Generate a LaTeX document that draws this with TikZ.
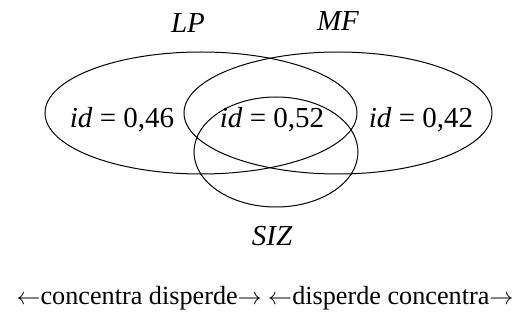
\documentclass[tikz,border=0pt]{standalone}
\usepackage{fontspec}
\setmainfont{Liberation Serif}
\begin{document}
\begin{tikzpicture}[x=0.5pt,y=-0.5pt,
  venn/.style={draw=black,line width=0.5pt},
  lab/.style={inner sep=0pt,font=\fontsize{14.5}{17}\selectfont},
  setname/.style={lab,font=\fontsize{14.5}{17}\selectfont\itshape}]
\useasboundingbox (0,0) rectangle (527,326);
\draw[venn] (201,113) ellipse [x radius=156, y radius=61];
\draw[venn] (338,113) ellipse [x radius=154, y radius=61];
\draw[venn] (276,152) ellipse [x radius=82, y radius=55];
\node[setname] (lp) at (188,23) {LP};
\node[setname] (mf) at (338,21) {MF};
\node[setname] (siz) at (272,236) {SIZ};
\node[lab] (a) at (122,120) {\textit{id} = 0,46};
\node[lab] (b) at (272,120) {\textit{id} = 0,52};
\node[lab] (c) at (421,120) {\textit{id} = 0,42};
\node[lab,font=\fontsize{13.1}{15}\selectfont] (d) at (265,298) {$\leftarrow$concentra disperde$\rightarrow$ $\leftarrow$disperde concentra$\rightarrow$};
\end{tikzpicture}
\end{document}
